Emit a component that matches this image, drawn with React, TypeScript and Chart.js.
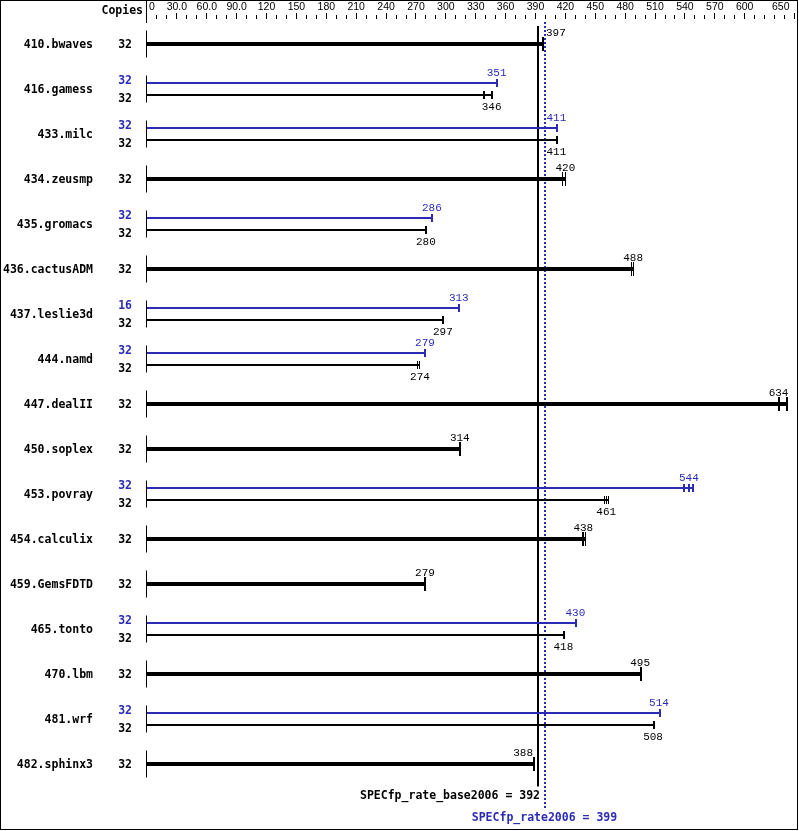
import React, { useEffect, useRef } from 'react';
import { Chart, registerables } from 'chart.js';

Chart.register(...registerables);

const benchmarks = [
  '410.bwaves', '416.gamess', '433.milc', '434.zeusmp', '435.gromacs', '436.cactusADM',
  '437.leslie3d', '444.namd', '447.dealII', '450.soplex', '453.povray', '454.calculix',
  '459.GemsFDTD', '465.tonto', '470.lbm', '481.wrf', '482.sphinx3',
];
const baseCopies = [32, 32, 32, 32, 32, 32, 32, 32, 32, 32, 32, 32, 32, 32, 32, 32, 32];
const peakCopies = [null, 32, 32, null, 32, null, 16, 32, null, null, 32, null, null, 32, null, 32, null];
const baseRatio = [397, 346, 411, 420, 280, 488, 297, 274, 634, 314, 461, 438, 279, 418, 495, 508, 388];
const peakRatio = [null, 351, 411, null, 286, null, 313, 279, null, null, 544, null, null, 430, null, 514, null];
const baseRuns = [
  [397], [338, 346], [411], [417, 420], [280], [486, 488], [297], [272, 274], [634, 642],
  [314], [459, 461, 463], [437, 438, 440], [279], [418], [495], [508], [388],
];
const peakRuns = [
  null, [351], [411], null, [286], null, [313], [279], null, null, [539, 544, 548],
  null, null, [430], null, [514], null,
];

const tickValues = [0, 30, 60, 90, 120, 150, 180, 210, 240, 270, 300, 330, 360, 390, 420, 450, 480, 510, 540, 570, 600, 650];
const tickLabels = ['0', '30.0', '60.0', '90.0', '120', '150', '180', '210', '240', '270', '300', '330', '360', '390', '420', '450', '480', '510', '540', '570', '600', '650'];
const minorTickStep = 10;
const axisMax = 650;

const baseScore = 392;
const peakScore = 399;
const baseScoreLabel = 'SPECfp_rate_base2006 = 392';
const peakScoreLabel = 'SPECfp_rate2006 = 399';

const BLUE = '#2b2bb4';
const BOLD = 'bold 11.5px "DejaVu Sans Mono"';
const VALUE_FONT = '11px "Liberation Mono"';
const TICK_FONT = '10.5px "Liberation Sans"';
const PAIR_OFFSET = 6 / 45;

const maxOf = (a: number[]) => Math.max(...a);

export default function App() {
  const ref = useRef<HTMLCanvasElement | null>(null);

  useEffect(() => {
    if (!ref.current) return;

    const singleData: any[] = [];
    const peakData: any[] = [];
    const pairBaseData: any[] = [];
    benchmarks.forEach((_, i) => {
      const pr = peakRuns[i];
      if (pr) {
        peakData.push({ x: maxOf(pr), y: i - PAIR_OFFSET });
        pairBaseData.push({ x: maxOf(baseRuns[i]), y: i + PAIR_OFFSET });
      } else {
        singleData.push({ x: maxOf(baseRuns[i]), y: i });
      }
    });

    const drawValueLabel = (ctx: any, xs: any, text: string, value: number, px: number, y: number, color: string) => {
      ctx.font = VALUE_FONT;
      ctx.fillStyle = color;
      const w = ctx.measureText(text).width;
      const bx = xs.getPixelForValue(baseScore);
      const ppx = xs.getPixelForValue(peakScore);
      let left = px - w / 2;
      const right = px + w / 2;
      if (right > bx - 2 && left < ppx + 2) {
        if (value < (baseScore + peakScore) / 2) left = Math.round(bx) - 4 - w;
        else left = Math.round(ppx) + 2;
      }
      ctx.textAlign = 'left';
      ctx.fillText(text, left, y);
    };

    const drawCaps = (ctx: any, xs: any, runs: number[], cy: number, half: number, color: string) => {
      ctx.fillStyle = color;
      const sorted = [...runs].sort((a, b) => a - b);
      let minGap = Infinity;
      for (let k = 1; k < sorted.length; k++) minGap = Math.min(minGap, sorted[k] - sorted[k - 1]);
      const w = minGap < 4 ? 1 : 2;
      runs.forEach((v) => {
        const px = xs.getPixelForValue(v);
        ctx.fillRect(Math.floor(px), cy - half, w, half * 2);
      });
    };

    const overlay = {
      id: 'specOverlay',
      beforeDatasetsDraw(chart: any) {
        const ctx = chart.ctx;
        const xs = chart.scales.x;
        const ys = chart.scales.y;
        ctx.save();
        const bx = Math.round(xs.getPixelForValue(baseScore) - 0.5);
        const px = Math.round(xs.getPixelForValue(peakScore) - 0.5);
        ctx.fillStyle = '#000';
        ctx.fillRect(bx, 26, 2, ys.bottom - 26);
        ctx.fillStyle = BLUE;
        for (let y = 22; y < 808; y += 4) ctx.fillRect(px, y, 2, 2);
        ctx.restore();
      },
      afterDatasetsDraw(chart: any) {
        const ctx = chart.ctx;
        const xs = chart.scales.x;
        const ys = chart.scales.y;
        ctx.save();
        const x0 = Math.round(xs.getPixelForValue(0));
        ctx.textBaseline = 'alphabetic';

        benchmarks.forEach((name, i) => {
          const cy = ys.getPixelForValue(i);
          ctx.fillStyle = '#000';
          ctx.fillRect(x0 - 1, cy - 13.5, 1, 27);
          ctx.font = BOLD;
          ctx.textAlign = 'right';
          ctx.fillText(name, 93, cy + 4);
          const pr = peakRuns[i];
          if (pr) {
            const py = ys.getPixelForValue(i - PAIR_OFFSET);
            const by = ys.getPixelForValue(i + PAIR_OFFSET);
            ctx.font = BOLD;
            ctx.textAlign = 'right';
            ctx.fillStyle = BLUE;
            ctx.fillText(String(peakCopies[i]), 132, cy - 5);
            ctx.fillStyle = '#000';
            ctx.fillText(String(baseCopies[i]), 132, cy + 13);
            drawCaps(ctx, xs, pr, py, 4, BLUE);
            drawCaps(ctx, xs, baseRuns[i], by, 4, '#000');
            const pv = peakRatio[i] as number;
            drawValueLabel(ctx, xs, String(pv), pv, xs.getPixelForValue(pv), cy - 13, BLUE);
            const bv = baseRatio[i];
            drawValueLabel(ctx, xs, String(bv), bv, xs.getPixelForValue(bv), cy + 21, '#000');
          } else {
            ctx.fillStyle = '#000';
            ctx.fillText(String(baseCopies[i]), 132, cy + 4);
            drawCaps(ctx, xs, baseRuns[i], cy, 7, '#000');
            const bv = baseRatio[i];
            drawValueLabel(ctx, xs, String(bv), bv, xs.getPixelForValue(bv), cy - 8, '#000');
          }
        });

        // summary texts
        const bxp = xs.getPixelForValue(baseScore);
        const pxp = xs.getPixelForValue(peakScore);
        ctx.font = BOLD;
        ctx.fillStyle = '#000';
        ctx.textAlign = 'right';
        ctx.fillText(baseScoreLabel, Math.round(bxp) + 3, 799);
        ctx.fillStyle = BLUE;
        ctx.textAlign = 'center';
        ctx.fillText(peakScoreLabel, pxp, 821);

        // top axis
        ctx.fillStyle = '#000';
        ctx.textAlign = 'right';
        ctx.font = BOLD;
        ctx.fillText('Copies', 143, 14);
        ctx.fillRect(x0 - 1, 1, 1, 22);
        for (let v = minorTickStep; v <= axisMax; v += minorTickStep) {
          const px = Math.floor(xs.getPixelForValue(v));
          const major = tickValues.includes(v);
          ctx.fillRect(px, major ? 13 : 15, 1, major ? 6 : 4);
        }
        ctx.font = TICK_FONT;
        tickValues.forEach((v, k) => {
          const px = xs.getPixelForValue(v);
          if (k === 0) {
            ctx.textAlign = 'left';
            ctx.fillText(tickLabels[k], px + 2, 10);
          } else if (k === tickValues.length - 1) {
            ctx.textAlign = 'right';
            ctx.fillText(tickLabels[k], px - 5, 10);
          } else {
            ctx.textAlign = 'center';
            ctx.fillText(tickLabels[k], px, 10);
          }
        });

        // frame
        ctx.strokeStyle = '#000';
        ctx.lineWidth = 1;
        ctx.strokeRect(0.5, 0.5, 797, 829);
        ctx.restore();
      },
    };

    const chart = new Chart(ref.current, {
      type: 'bar',
      data: {
        datasets: [
          { label: 'base', data: singleData, backgroundColor: '#000', barThickness: 4, grouped: false, inflateAmount: 0, borderWidth: 0 } as any,
          { label: 'peak', data: peakData, backgroundColor: BLUE, barThickness: 2, grouped: false, inflateAmount: 0, borderWidth: 0 } as any,
          { label: 'base (pair)', data: pairBaseData, backgroundColor: '#000', barThickness: 2, grouped: false, inflateAmount: 0, borderWidth: 0 } as any,
        ],
      },
      options: {
        indexAxis: 'y',
        responsive: false,
        animation: false,
        devicePixelRatio: 1,
        layout: { padding: { top: 21.5, left: 147, right: 4.5, bottom: 44.5 } },
        plugins: { legend: { display: false }, tooltip: { enabled: false } },
        scales: {
          x: { type: 'linear', min: 0, max: axisMax, display: false, offset: false, grace: 0 },
          y: { type: 'linear', min: -0.5, max: benchmarks.length - 0.5, reverse: true, display: false, offset: false, grace: 0 },
        },
      } as any,
      plugins: [overlay],
    });
    return () => chart.destroy();
  }, []);

  return (
    <div style={{ position: 'absolute', left: 0, top: 0, width: 799, height: 831, background: '#fff' }}>
      <canvas ref={ref} width={799} height={831} style={{ display: 'block' }} />
    </div>
  );
}
